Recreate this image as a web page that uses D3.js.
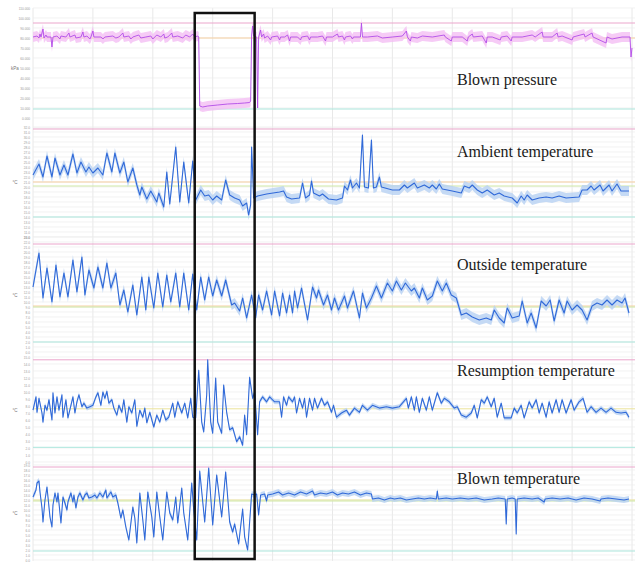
<!DOCTYPE html>
<html>
<head>
<meta charset="utf-8">
<script src="https://cdn.jsdelivr.net/npm/d3@7"></script>
<style>
  body { margin: 0; background: #fff; }
  .tick text, .unit { font-family: "Liberation Sans", Arial, sans-serif; }
  .title { font-family: "Liberation Serif", "Times New Roman", serif; }
</style>
</head>
<body>
<script>
// time axis (samples) and the highlighted interval
const timeDomain = [0, 600];
const gridEvery = 60;
const highlight = [162, 222];

// [time, value]
const blownPressure = [[0,81],[4,82],[6,80],[7,84],[8,81],[10,89],[11,80],[13,83],[14,81],[18,81],[19,71],[20,81],[24,82],[27,79],[28,82],[33,81],[36,85],[37,81],[42,83],[43,80],[48,81],[50,86],[51,81],[54,82],[57,79],[58,81],[60,87],[61,81],[68,81],[70,79],[72,81],[80,82],[83,80],[86,81],[90,85],[91,81],[96,82],[98,79],[100,81],[106,83],[108,80],[113,81],[118,82],[120,79],[124,83],[128,81],[131,84],[132,80],[135,81],[139,85],[140,81],[145,82],[150,80],[153,83],[157,81],[160,84],[162,81],[165,82],[166,81],[167,12],[170,11],[175,12],[185,13],[195,14],[205,14.5],[212,15],[217,15.5],[218,17],[219,83],[220,92],[221,82],[224,81],[225,10],[226,81],[228,88],[229,81],[231,84],[232,80],[235,82],[238,78],[239,81],[245,82],[247,78],[248,81],[252,81],[255,83],[257,77],[258,81],[265,81],[268,78],[269,81],[275,82],[277,78],[278,81],[285,81],[290,82],[293,77],[294,81],[300,81],[305,84],[306,81],[310,82],[312,78],[313,81],[318,82],[320,79],[321,81],[328,81],[329,95],[330,81],[335,81],[345,82],[350,80],[360,81],[370,82],[374,87],[375,81],[378,77],[379,81],[385,80],[390,82],[400,81],[412,83],[413,81],[419,77],[420,81],[430,81],[435,77],[436,81],[440,84],[441,81],[450,82],[454,75],[455,81],[460,81],[468,78],[469,81],[475,82],[479,77],[480,81],[490,81],[500,83],[503,81],[510,86],[511,81],[520,81],[525,85],[526,81],[530,82],[540,78],[541,81],[552,84],[553,81],[560,85],[561,81],[574,75],[575,81],[580,79],[590,81],[598,81],[599,61],[600,70]];

const ambientTemp = [[0,22.4],[6,24.6],[10,22.0],[14,26.2],[19,22.0],[22,25.8],[27,22.4],[31,24.4],[35,22.4],[40,26.6],[44,22.8],[48,25.0],[53,23.0],[56,24.0],[60,22.8],[65,23.8],[70,22.4],[74,26.8],[79,23.0],[82,26.8],[87,22.8],[91,25.0],[95,21.0],[100,23.8],[104,20.4],[107,18.4],[109,20.0],[114,17.6],[118,19.2],[124,17.0],[126,18.8],[131,16.0],[134,23.0],[137,16.6],[143,28.0],[147,17.0],[151,25.0],[156,16.8],[160,25.2],[163,17.4],[168,19.4],[172,18.2],[176,18.4],[180,17.4],[184,18.2],[189,17.4],[193,21.4],[197,18.4],[202,17.8],[207,17.4],[210,16.2],[214,16.8],[216,14.4],[218,16.4],[219,28.0],[221,17.8],[225,18.2],[234,18.6],[247,19.0],[251,19.2],[254,18.0],[259,17.6],[267,17.8],[270,20.8],[273,17.8],[277,18.4],[279,21.2],[281,18.8],[287,18.2],[290,18.6],[296,17.6],[304,17.4],[310,17.8],[312,20.2],[315,19.4],[318,21.4],[320,19.8],[324,20.8],[327,19.8],[330,30.4],[332,20.0],[336,19.8],[339,29.4],[341,19.8],[344,20.0],[347,22.0],[349,20.0],[360,19.4],[367,19.4],[372,20.4],[375,19.8],[382,20.8],[385,19.8],[392,20.4],[397,19.8],[400,20.4],[404,19.6],[407,20.6],[410,19.6],[420,19.2],[429,18.8],[432,20.2],[437,19.8],[440,20.4],[445,19.4],[450,18.8],[455,19.4],[462,18.4],[467,18.8],[472,18.2],[480,17.8],[485,16.8],[489,18.2],[492,17.4],[495,18.4],[500,17.4],[507,17.8],[514,18.0],[520,17.8],[527,18.2],[534,17.8],[547,18.0],[550,19.4],[555,19.4],[559,20.2],[562,19.4],[568,20.4],[571,19.2],[577,20.4],[580,19.2],[585,20.6],[589,19.2],[597,19.2]];

const outsideTemp = [[0,13.0],[6,19.8],[10,10.8],[14,16.8],[19,10.0],[23,17.4],[27,11.0],[31,15.8],[35,11.0],[40,18.4],[44,12.0],[49,19.0],[52,11.4],[56,16.4],[61,12.8],[65,17.0],[70,12.8],[74,17.8],[78,12.8],[83,15.8],[87,9.4],[91,12.4],[95,8.0],[100,13.4],[104,7.4],[109,15.0],[113,8.4],[116,15.0],[121,8.8],[125,15.8],[130,9.0],[134,15.4],[138,10.0],[143,15.8],[147,9.0],[151,15.8],[156,8.4],[160,15.6],[164,8.4],[168,15.0],[172,10.4],[176,15.0],[180,11.2],[184,14.4],[189,11.2],[193,14.4],[199,9.4],[202,9.8],[207,8.2],[210,10.8],[214,6.8],[219,11.4],[223,6.8],[226,11.4],[230,8.4],[234,12.2],[239,7.4],[242,12.2],[247,7.2],[250,11.8],[254,7.8],[257,11.4],[260,7.8],[262,12.2],[265,8.8],[269,12.8],[275,6.4],[280,13.0],[284,10.8],[286,12.4],[291,9.4],[295,11.4],[299,8.4],[302,10.8],[306,8.4],[312,11.2],[315,8.8],[321,12.2],[327,6.8],[330,11.8],[334,8.8],[339,10.8],[344,13.2],[349,10.8],[355,13.8],[360,12.2],[364,14.2],[369,12.4],[373,13.8],[379,12.2],[382,12.8],[387,10.8],[390,12.8],[395,10.4],[400,11.2],[405,14.2],[410,12.2],[414,13.8],[419,11.4],[424,10.8],[429,7.4],[434,7.8],[440,7.0],[447,6.4],[454,6.8],[459,6.4],[462,8.4],[467,6.8],[472,5.8],[475,8.8],[480,6.8],[487,7.2],[490,10.2],[495,5.8],[499,7.8],[504,4.8],[509,10.2],[514,9.2],[518,10.4],[522,6.2],[527,10.4],[532,7.8],[535,10.2],[540,8.4],[545,9.4],[550,8.4],[555,6.4],[560,9.2],[565,9.8],[570,9.4],[575,10.4],[580,9.4],[585,10.4],[590,9.8],[593,10.8],[597,7.8]];

const resumptionTemp = [[0,7.4],[3,9.3],[4,7.1],[6,9.1],[9,7.0],[10,5.7],[12,8.1],[14,7.4],[16,8.9],[19,6.0],[20,9.9],[22,7.0],[24,9.3],[26,7.4],[29,9.6],[30,6.4],[33,8.9],[35,6.3],[38,8.1],[40,9.3],[42,7.0],[44,8.6],[46,9.6],[49,7.9],[51,8.4],[54,7.7],[57,7.9],[60,8.1],[63,9.3],[65,9.9],[68,8.1],[70,10.0],[72,9.1],[74,10.1],[76,8.4],[79,8.9],[81,7.7],[84,6.7],[86,8.1],[89,7.1],[91,8.9],[94,5.7],[96,7.9],[99,7.0],[102,8.9],[104,5.1],[107,7.4],[110,6.4],[112,7.7],[114,5.6],[117,7.1],[121,5.0],[124,6.7],[127,5.7],[130,7.4],[133,6.0],[136,6.4],[140,8.4],[142,6.4],[145,8.6],[149,7.0],[152,8.4],[155,6.3],[158,9.1],[160,6.4],[163,6.3],[166,13.1],[169,5.7],[171,4.3],[174,9.6],[175,14.6],[178,5.7],[180,4.1],[183,12.0],[185,5.7],[189,4.1],[191,11.0],[194,7.1],[197,4.6],[200,4.9],[204,2.9],[207,3.6],[210,2.4],[212,6.7],[214,3.9],[217,12.1],[220,9.1],[222,10.0],[225,3.9],[227,8.6],[230,9.3],[234,8.6],[237,9.3],[242,8.6],[247,8.6],[249,6.4],[251,9.3],[254,8.1],[256,9.3],[260,8.6],[262,9.3],[264,7.0],[267,9.1],[270,7.7],[272,9.1],[274,6.4],[277,9.1],[280,7.4],[282,9.1],[285,7.7],[289,9.1],[292,8.1],[295,8.6],[299,7.1],[301,8.1],[304,6.4],[309,7.0],[314,7.4],[317,6.7],[322,7.7],[327,7.1],[330,8.1],[335,7.4],[340,8.1],[347,7.7],[354,7.9],[360,7.7],[367,7.9],[374,9.1],[376,7.7],[379,9.3],[382,7.4],[384,9.3],[387,7.1],[390,9.1],[394,7.4],[397,9.3],[400,7.4],[405,9.9],[409,8.4],[412,9.1],[417,8.6],[422,7.7],[425,7.9],[429,6.7],[434,6.4],[439,7.0],[442,8.1],[445,6.3],[449,8.9],[452,8.4],[455,9.3],[459,7.9],[462,9.1],[465,6.4],[469,8.4],[472,6.3],[479,6.3],[482,7.7],[485,7.0],[489,8.1],[492,6.3],[497,8.6],[500,7.7],[504,8.9],[507,7.0],[510,8.4],[514,6.4],[517,8.6],[520,7.0],[524,8.9],[527,7.1],[530,8.9],[534,7.0],[539,8.9],[542,7.4],[547,8.6],[551,9.1],[555,7.1],[559,7.9],[564,7.1],[569,7.7],[574,7.1],[579,7.7],[584,7.1],[589,7.0],[594,7.1],[597,6.4]];

const blownTemp = [[0,12.6],[3,14.0],[4,15.4],[6,15.8],[7,13.6],[9,10.4],[10,7.6],[12,12.0],[14,14.6],[15,12.6],[17,8.6],[19,6.6],[20,11.0],[22,13.4],[24,11.6],[25,13.4],[28,7.4],[30,12.6],[32,11.4],[34,10.0],[35,11.6],[38,13.4],[40,11.6],[41,13.0],[43,10.4],[45,12.6],[47,13.4],[50,12.0],[52,13.0],[54,13.4],[56,12.4],[59,12.6],[62,13.0],[64,12.4],[67,13.4],[70,12.6],[73,14.0],[74,12.4],[78,13.6],[80,12.6],[83,13.0],[85,11.4],[88,8.4],[90,10.0],[93,6.6],[96,4.0],[100,10.6],[102,8.4],[104,3.4],[107,13.4],[110,8.0],[112,4.0],[115,13.6],[119,8.6],[121,4.6],[124,13.6],[127,8.6],[130,4.0],[134,13.6],[137,9.4],[140,8.0],[143,12.6],[145,7.4],[149,14.4],[151,9.4],[155,4.0],[159,15.4],[161,10.0],[164,4.0],[167,17.8],[172,7.6],[176,18.4],[180,7.0],[184,17.0],[189,8.6],[193,17.6],[197,7.6],[200,5.6],[202,7.2],[206,3.2],[210,10.2],[212,4.6],[215,2.0],[217,7.6],[219,13.2],[222,13.0],[224,13.2],[226,9.0],[228,13.0],[232,13.2],[234,11.8],[235,13.0],[240,13.2],[246,13.6],[250,13.0],[256,13.4],[262,13.0],[268,13.6],[274,13.2],[280,13.8],[282,13.0],[288,13.4],[294,13.2],[300,13.6],[305,13.0],[310,13.4],[316,13.2],[322,13.6],[328,13.0],[334,13.4],[339,13.2],[340,12.2],[346,12.4],[352,12.0],[358,12.4],[362,12.2],[368,12.4],[374,12.0],[380,12.2],[386,12.4],[392,12.2],[398,12.4],[404,12.2],[405,13.8],[406,12.2],[414,12.4],[420,12.2],[428,12.4],[436,12.2],[444,12.4],[452,12.0],[460,12.2],[466,12.4],[473,12.2],[474,7.2],[475,12.2],[480,12.4],[483,12.2],[484,5.2],[485,12.2],[492,12.4],[500,12.2],[506,12.4],[512,11.6],[513,12.2],[520,12.4],[528,12.2],[536,12.4],[544,12.0],[552,12.4],[560,12.2],[568,11.8],[569,12.2],[576,12.4],[584,12.2],[592,12.0],[597,12.2]];

const titles = ['Blown pressure', 'Ambient temperature', 'Outside temperature', 'Resumption temperature', 'Blown temperature'];
const units = ['kPa', '°C', '°C', '°C', '°C'];
const yDomains = [[-10, 110], [10, 32], [0, 23], [0, 15], [0, 19]];
const yTickStep = [10, 1, 1, 1, 1];
// upper limit, setpoint, target, lower limit
const upperLimit = [95, 31.6, 21.6, 14.6, 18.6];
const setpoint = [80, 21.0, 9.2, 7.6, 12.0];
const target = [null, 20.2, 9.0, null, 11.8];
const lowerLimit = [9, 14.0, 2.0, 2.1, 1.8];

const series = [blownPressure, ambientTemp, outsideTemp, resumptionTemp, blownTemp];

// layout
const panelRange = [[128, 8], [237, 127], [352, 237], [462, 357], [560, 465]];
const titleY = [85, 157, 270, 376, 484];
const bandHalf = [5, 1.0, 1.0, 0.35, 0.6];
const left = 33, right = 632;

const svg = d3.select('body').append('svg')
    .attr('width', 641)
    .attr('height', 563);

const x = d3.scaleLinear().domain(timeDomain).range([left, right]);

// vertical grid
svg.append('g').selectAll('line')
    .data(d3.range(timeDomain[0], timeDomain[1] + 1, gridEvery))
    .enter().append('line')
    .attr('x1', d => x(d)).attr('x2', d => x(d))
    .attr('y1', 8).attr('y2', 561)
    .attr('stroke', '#e2e2e2')
    .attr('stroke-width', 0.8);

series.forEach((data, i) => {
    const dom = yDomains[i];
    const y = d3.scaleLinear().domain(dom).range(panelRange[i]);
    const g = svg.append('g');
    const isPressure = i === 0;

    const ticks = d3.range(dom[0], dom[1] + 1e-9, yTickStep[i]);
    // the bottom of the pressure panel is shared with the next one
    const labelTicks = isPressure ? ticks.slice(1) : ticks;

    // horizontal grid
    g.selectAll('.hg').data(ticks).enter().append('line')
        .attr('x1', left).attr('x2', right + 3)
        .attr('y1', d => y(d)).attr('y2', d => y(d))
        .attr('stroke', '#ededed')
        .attr('stroke-width', 0.7);

    // limit lines
    const limits = [
        [upperLimit[i], '#eba6cc'],
        [setpoint[i], i === 3 || i === 4 ? '#ece39a' : '#f6cfa0'],
        [target[i], '#cfe8a6'],
        [lowerLimit[i], '#abe6dc']
    ].filter(l => l[0] !== null);
    g.selectAll('.lim').data(limits).enter().append('line')
        .attr('x1', left).attr('x2', right + 3)
        .attr('y1', d => y(d[0])).attr('y2', d => y(d[0]))
        .attr('stroke', d => d[1])
        .attr('stroke-width', 1);

    // band
    const area = d3.area()
        .x(d => x(d[0]))
        .y0(d => y(d[1] - bandHalf[i]))
        .y1(d => y(d[1] + bandHalf[i]));
    g.append('path')
        .datum(data)
        .attr('d', area)
        .attr('fill', isPressure ? '#f4bef4' : '#b6d1f2')
        .attr('opacity', 0.8);

    // line
    const line = d3.line().x(d => x(d[0])).y(d => y(d[1]));
    g.append('path')
        .datum(data)
        .attr('d', line)
        .attr('fill', 'none')
        .attr('stroke', isPressure ? '#b24de8' : '#3069d8')
        .attr('stroke-width', isPressure ? 0.9 : 1.1)
        .attr('stroke-linejoin', 'round');

    // tiny y axis labels
    const axis = d3.axisLeft(y)
        .tickValues(labelTicks)
        .tickSize(0)
        .tickPadding(2)
        .tickFormat(isPressure ? d3.format('.3f') : d3.format('.1f'));
    const ax = g.append('g')
        .attr('transform', `translate(${left - 1},0)`)
        .call(axis);
    ax.select('.domain').remove();
    ax.selectAll('text')
        .attr('font-size', 3.2)
        .attr('fill', '#9a9a9a');

    // unit
    g.append('text')
        .attr('class', 'unit')
        .attr('x', 15)
        .attr('y', (panelRange[i][0] + panelRange[i][1]) / 2 + 2)
        .attr('text-anchor', 'middle')
        .attr('font-size', 4.5)
        .attr('fill', '#777')
        .text(units[i]);

    // title
    g.append('text')
        .attr('class', 'title')
        .attr('x', 457)
        .attr('y', titleY[i])
        .attr('font-size', 16)
        .attr('fill', '#1a1a1a')
        .text(titles[i]);
});

// highlighted interval box
svg.append('rect')
    .attr('x', x(highlight[0]))
    .attr('y', 13)
    .attr('width', x(highlight[1]) - x(highlight[0]))
    .attr('height', 546)
    .attr('fill', 'none')
    .attr('stroke', '#111')
    .attr('stroke-width', 2.5);
</script>
</body>
</html>
